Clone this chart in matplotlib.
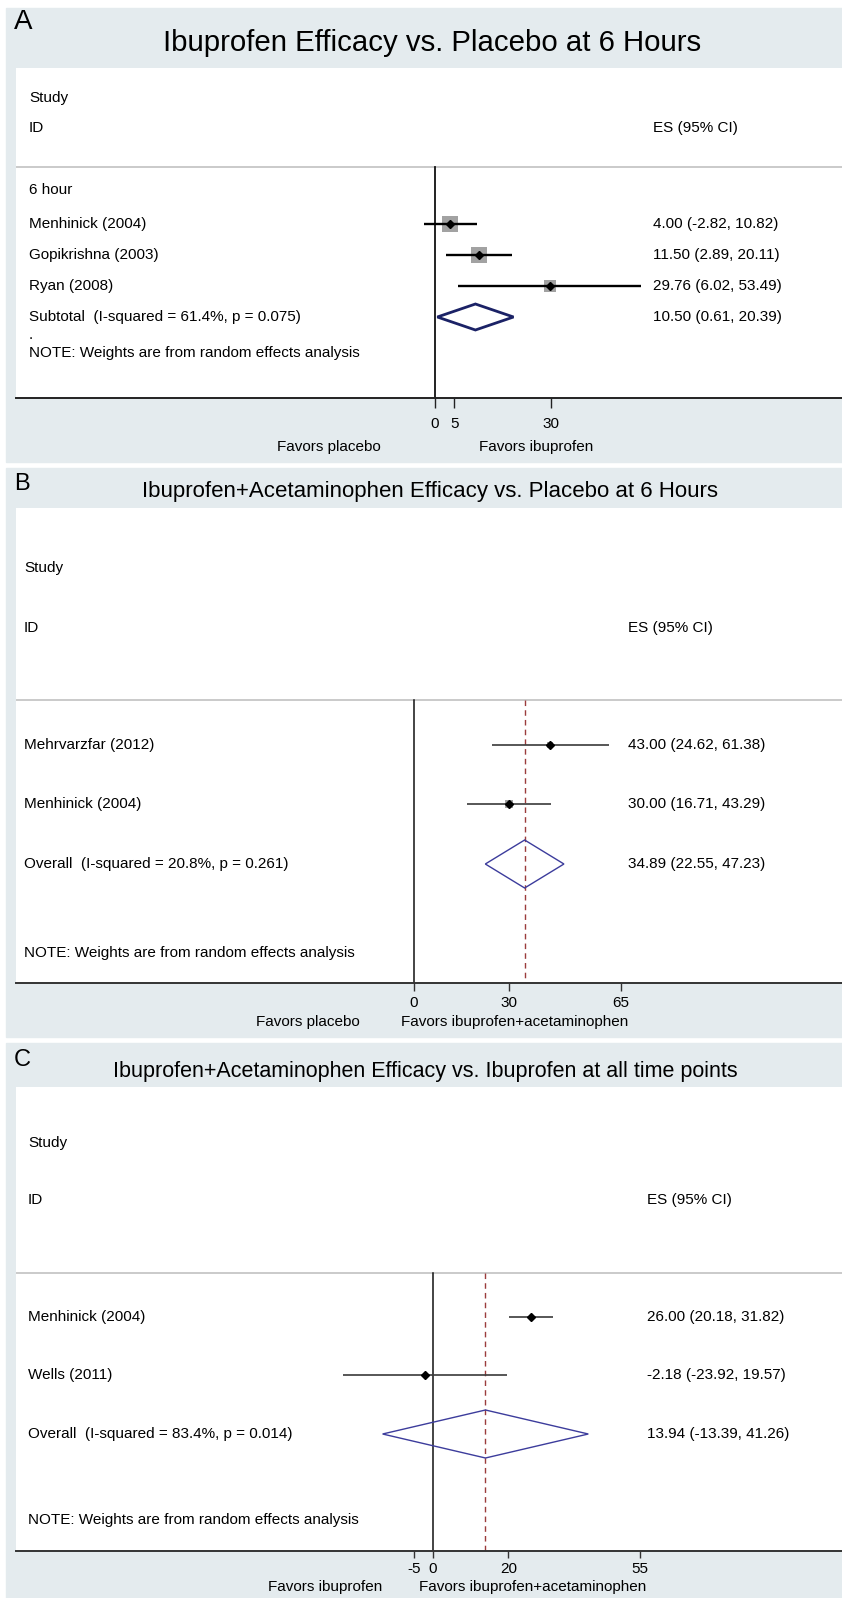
import numpy as np
import matplotlib
matplotlib.use('Agg')
import matplotlib.pyplot as plt
from matplotlib.patches import Rectangle, Polygon

plt.rcParams['font.family'] = ['Liberation Sans', 'DejaVu Sans']

W, H = 842, 1598
FS = 11

############# Data #############
# A: ibuprofen vs placebo, 6 h
a_studies = ['Menhinick (2004)', 'Gopikrishna (2003)', 'Ryan (2008)']
a_es = [4.00, 11.50, 29.76]
a_lo = [-2.82, 2.89, 6.02]
a_hi = [10.82, 20.11, 53.49]
a_wt = [41.0, 38.0, 21.0]
a_pool = [10.50, 0.61, 20.39]
a_pool_label = 'Subtotal  (I-squared = 61.4%, p = 0.075)'
a_ticks = [0, 5, 30]
a_favors = ['Favors placebo', 'Favors ibuprofen']

# B: ibuprofen+acetaminophen vs placebo, 6 h
b_studies = ['Mehrvarzfar (2012)', 'Menhinick (2004)']
b_es = [43.00, 30.00]
b_lo = [24.62, 16.71]
b_hi = [61.38, 43.29]
b_wt = [37.0, 63.0]
b_pool = [34.89, 22.55, 47.23]
b_pool_label = 'Overall  (I-squared = 20.8%, p = 0.261)'
b_ticks = [0, 30, 65]
b_favors = ['Favors placebo', 'Favors ibuprofen+acetaminophen']

# C: ibuprofen+acetaminophen vs ibuprofen, all time points
c_studies = ['Menhinick (2004)', 'Wells (2011)']
c_es = [26.00, -2.18]
c_lo = [20.18, -23.92]
c_hi = [31.82, 19.57]
c_wt = [55.0, 45.0]
c_pool = [13.94, -13.39, 41.26]
c_pool_label = 'Overall  (I-squared = 83.4%, p = 0.014)'
c_ticks = [-5, 0, 20, 55]
c_favors = ['Favors ibuprofen', 'Favors ibuprofen+acetaminophen']
################################

note = 'NOTE: Weights are from random effects analysis'
bg_col = '#e4ebee'


def fx(px):
    return px / W


def fy(py):
    return 1 - py / H


fig = plt.figure(figsize=(W / 100, H / 100), dpi=100)


def draw_panel(p, studies, es, lo, hi, wt, pool, pool_label, ticks, favors):
    # grey panel background
    fig.patches.append(Rectangle((fx(6), fy(p['bg'][1])), fx(842) - fx(6),
                                 (p['bg'][1] - p['bg'][0]) / H,
                                 transform=fig.transFigure, color=bg_col, zorder=-5))
    fig.text(fx(14), fy(p['letter_y']), p['letter'], fontsize=p['letter_fs'],
             ha='left', va='center')
    fig.text(fx(p['title_x']), fy(p['title_y']), p['title'], fontsize=p['title_fs'],
             ha='center', va='center')

    left, axis_y, top = 16, p['axis'], p['top']
    ax = fig.add_axes([fx(left), fy(axis_y), fx(842) - fx(left), (axis_y - top) / H])
    ax.set_facecolor('white')
    ax.set_xlim((left - p['zero']) / p['scale'], (842 - p['zero']) / p['scale'])
    ax.set_ylim(axis_y, top)
    for s in ['left', 'right', 'top']:
        ax.spines[s].set_visible(False)
    ax.spines['bottom'].set_color(p['axcol'])
    ax.spines['bottom'].set_linewidth(1.4)
    ax.set_yticks([])
    ax.set_xticks(ticks)
    ax.set_xticklabels([str(t) for t in ticks])
    ax.tick_params(axis='x', length=p['ticklen'], width=1, color=p['axcol'],
                   pad=p['tickpad'], labelsize=FS)

    ax.axhline(p['sep'], color='#c6c6c6', lw=1.3)
    ax.plot([0, 0], [p['sep'], axis_y], color='#111111', lw=p['zero_lw'])
    if p['dashed']:
        ax.plot([pool[0], pool[0]], [p['sep'], axis_y], color='#9b3c3c',
                lw=1.0, ls=(0, (4, 3)))

    # studies
    for i in range(len(studies)):
        y = p['rows'][i]
        ax.plot([lo[i], hi[i]], [y, y], color=p['ci_col'], lw=p['ci_lw'],
                solid_capstyle='butt', zorder=3)
        box = p['box_k'] * np.sqrt(wt[i]) * 0.72
        ax.scatter([es[i]], [y], marker='s', s=box ** 2, color='#a2a2a2',
                   linewidths=0, zorder=2)
        ax.plot([es[i]], [y], marker='D', ms=p['dot_ms'], color='black', zorder=4)
        fig.text(fx(p['lab_x']), fy(y), studies[i], fontsize=FS, va='center')
        fig.text(fx(p['es_x']), fy(y), '%.2f (%.2f, %.2f)' % (es[i], lo[i], hi[i]),
                 fontsize=FS, va='center')

    # pooled diamond
    yp, h = p['pool_y'], p['dia_h']
    ax.add_patch(Polygon([(pool[1], yp), (pool[0], yp - h), (pool[2], yp), (pool[0], yp + h)],
                         closed=True, fill=False, ec=p['dia_col'], lw=p['dia_lw'], zorder=3))
    fig.text(fx(p['lab_x']), fy(yp), pool_label, fontsize=FS, va='center')
    fig.text(fx(p['es_x']), fy(yp), '%.2f (%.2f, %.2f)' % tuple(pool),
             fontsize=FS, va='center')

    # header + note
    fig.text(fx(p['lab_x']), fy(p['study_y']), 'Study', fontsize=FS, va='center')
    fig.text(fx(p['lab_x']), fy(p['id_y']), 'ID', fontsize=FS, va='center')
    fig.text(fx(p['es_x']), fy(p['id_y']), 'ES (95% CI)', fontsize=FS, va='center')
    fig.text(fx(p['lab_x']), fy(p['note_y']), note, fontsize=FS, va='center')

    fig.text(fx(p['fav_x'][0]), fy(p['fav_y']), favors[0], fontsize=FS,
             ha='center', va='center')
    fig.text(fx(p['fav_x'][1]), fy(p['fav_y']), favors[1], fontsize=FS,
             ha='center', va='center')
    return ax


pa = dict(letter='A', letter_y=22, letter_fs=20, title='Ibuprofen Efficacy vs. Placebo at 6 Hours',
          title_x=432, title_y=43, title_fs=21.2, bg=(8, 462), top=68, axis=398,
          zero=435, scale=3.85, sep=167, rows=[224, 255, 286], pool_y=317, dia_h=13,
          study_y=98, id_y=128, note_y=353, lab_x=29, es_x=653, fav_y=447, fav_x=[329, 536],
          ticklen=7, tickpad=7, axcol='#222222', zero_lw=1.3, dashed=False,
          ci_col='black', ci_lw=1.7, box_k=2.6, dot_ms=4.5, dia_col='#1b2266', dia_lw=2.0)
ax_a = draw_panel(pa, a_studies, a_es, a_lo, a_hi, a_wt, a_pool, a_pool_label, a_ticks, a_favors)
fig.text(fx(29), fy(335), '.', fontsize=FS, va='center')
fig.text(fx(29), fy(190), '6 hour', fontsize=FS, va='center')

pb = dict(letter='B', letter_y=484, letter_fs=17,
          title='Ibuprofen+Acetaminophen Efficacy vs. Placebo at 6 Hours',
          title_x=430, title_y=491, title_fs=16, bg=(468, 1037), top=508, axis=983,
          zero=413.5, scale=3.185, sep=700, rows=[745, 804], pool_y=864, dia_h=24,
          study_y=568, id_y=628, note_y=953, lab_x=24, es_x=628, fav_y=1022, fav_x=[308, 515],
          ticklen=6, tickpad=3, axcol='#333333', zero_lw=1.1, dashed=True,
          ci_col='#3a3a3a', ci_lw=1.2, box_k=1.0, dot_ms=3.8, dia_col='#3c3c9c', dia_lw=1.0)
ax_b = draw_panel(pb, b_studies, b_es, b_lo, b_hi, b_wt, b_pool, b_pool_label, b_ticks, b_favors)

pc = dict(letter='C', letter_y=1060, letter_fs=17,
          title='Ibuprofen+Acetaminophen Efficacy vs. Ibuprofen at all time points',
          title_x=425, title_y=1071, title_fs=15.5, bg=(1043, 1598), top=1087, axis=1551,
          zero=433, scale=3.764, sep=1273, rows=[1317, 1375], pool_y=1434, dia_h=24,
          study_y=1143, id_y=1200, note_y=1520, lab_x=28, es_x=647, fav_y=1587, fav_x=[325, 533],
          ticklen=5, tickpad=3, axcol='#333333', zero_lw=1.1, dashed=True,
          ci_col='#3a3a3a', ci_lw=1.2, box_k=0.5, dot_ms=3.8, dia_col='#3c3c9c', dia_lw=1.0)
ax_c = draw_panel(pc, c_studies, c_es, c_lo, c_hi, c_wt, c_pool, c_pool_label, c_ticks, c_favors)

fig.savefig('out.png', dpi=100)
